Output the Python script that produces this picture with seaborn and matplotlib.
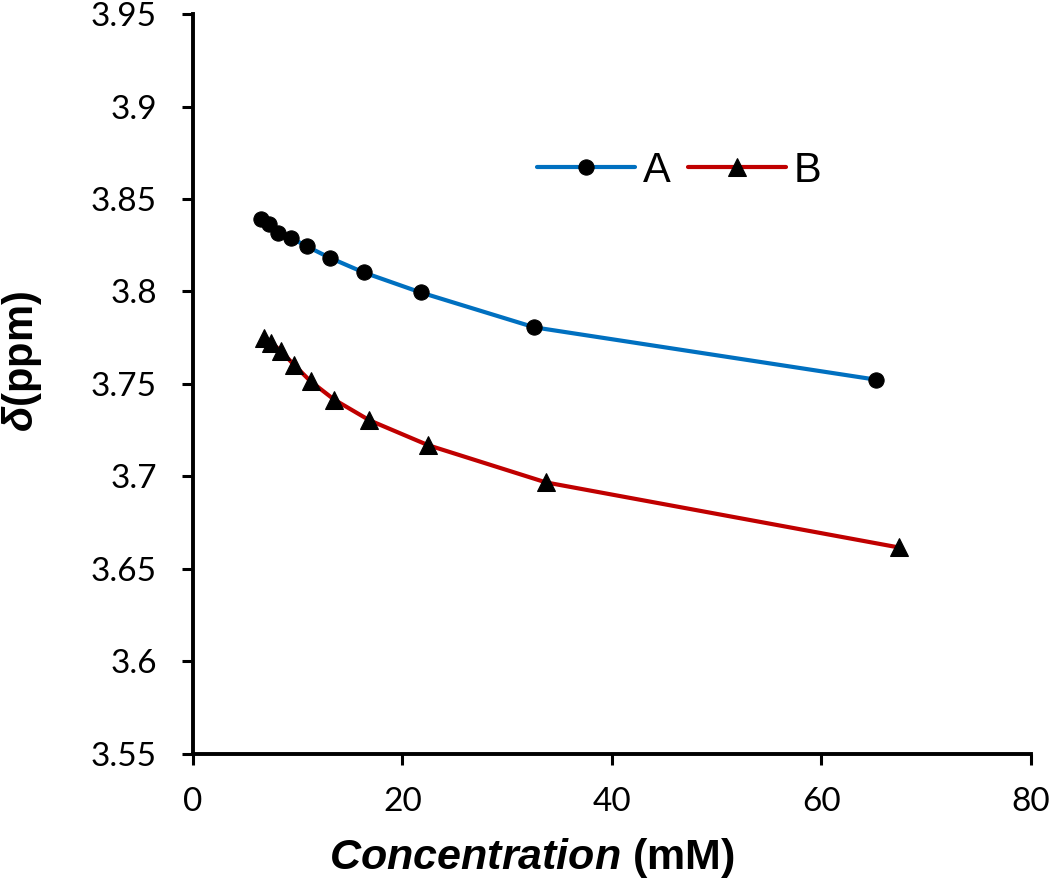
import matplotlib
matplotlib.use('Agg')
import matplotlib.pyplot as plt
import seaborn as sns
import numpy as np

# chemical shift vs concentration, two series
conc_a = [6.52, 7.24, 8.15, 9.31, 10.87, 13.04, 16.3, 21.73, 32.6, 65.2]
shift_a = [3.839, 3.8365, 3.8316, 3.8292, 3.8244, 3.8183, 3.8103, 3.7995, 3.7806, 3.7523]
conc_b = [6.74, 7.49, 8.43, 9.63, 11.23, 13.48, 16.85, 22.47, 33.7, 67.4]
shift_b = [3.775, 3.7722, 3.7676, 3.7604, 3.7514, 3.7415, 3.7303, 3.7168, 3.6967, 3.6615]

x_ticks = [0, 20, 40, 60, 80]
y_ticks = [3.55, 3.6, 3.65, 3.7, 3.75, 3.8, 3.85, 3.9, 3.95]
y_ticklabels = ['3.55', '3.6', '3.65', '3.7', '3.75', '3.8', '3.85', '3.9', '3.95']

sns.set_style('white')
plt.rcParams['font.family'] = ['Liberation Sans', 'DejaVu Sans']
plt.rcParams['mathtext.fontset'] = 'custom'
plt.rcParams['mathtext.it'] = 'Liberation Sans:italic:bold'
plt.rcParams['mathtext.rm'] = 'Liberation Sans:bold'
plt.rcParams['text.color'] = 'black'
plt.rcParams['xtick.color'] = 'black'
plt.rcParams['ytick.color'] = 'black'

fig = plt.figure(figsize=(10.5, 8.86), dpi=100)
ax = fig.add_axes([0.1838, 0.1495, 0.798, 0.8344])

sns.lineplot(x=conc_a, y=shift_a, ax=ax, color='#0070C0', lw=3, marker='o',
             markersize=11, mfc='black', mec='black', label='A')
sns.lineplot(x=conc_b, y=shift_b, ax=ax, color='#C00000', lw=3, marker='^',
             markersize=13, mfc='black', mec='black', label='B')

ax.set_xlim(0, 80)
ax.set_ylim(3.55, 3.95)
ax.set_xticks(x_ticks)
ax.set_yticks(y_ticks)
ax.set_yticklabels(y_ticklabels)
ax.set_xlabel('')
ax.set_ylabel('')

for lab in ax.get_xticklabels() + ax.get_yticklabels():
    lab.set_fontfamily('Lato')
    lab.set_fontsize(24)
    lab.set_color('black')

sns.despine(ax=ax)
for side in ['left', 'bottom']:
    ax.spines[side].set_linewidth(2.8)
    ax.spines[side].set_color('black')
ax.tick_params(axis='both', direction='out', length=8, width=2.2, color='black',
               bottom=True, left=True)
ax.tick_params(axis='x', pad=16)
ax.tick_params(axis='y', pad=18)

fig.text(532 / 1050, 1 - 858 / 886, r'$\mathit{Concentration}$' + ' (mM)',
         fontsize=31, fontweight='bold', ha='center', va='center', color='black')
fig.text(22 / 1050, 1 - 362 / 886, r'$\delta$' + '(ppm)', fontsize=30,
         fontweight='bold', rotation=90, ha='center', va='center', color='black')

handles, labels = ax.get_legend_handles_labels()
leg = ax.legend(handles, labels, loc='center left',
                bbox_to_anchor=(537 / 1050, 1 - 171 / 886),
                bbox_transform=fig.transFigure, ncol=2, frameon=False, fontsize=30,
                handlelength=2.35, handletextpad=0.2, columnspacing=0.4, borderpad=0,
                borderaxespad=0)
for t in leg.get_texts():
    t.set_color('black')

fig.savefig('out.png', dpi=100)
plt.close(fig)
